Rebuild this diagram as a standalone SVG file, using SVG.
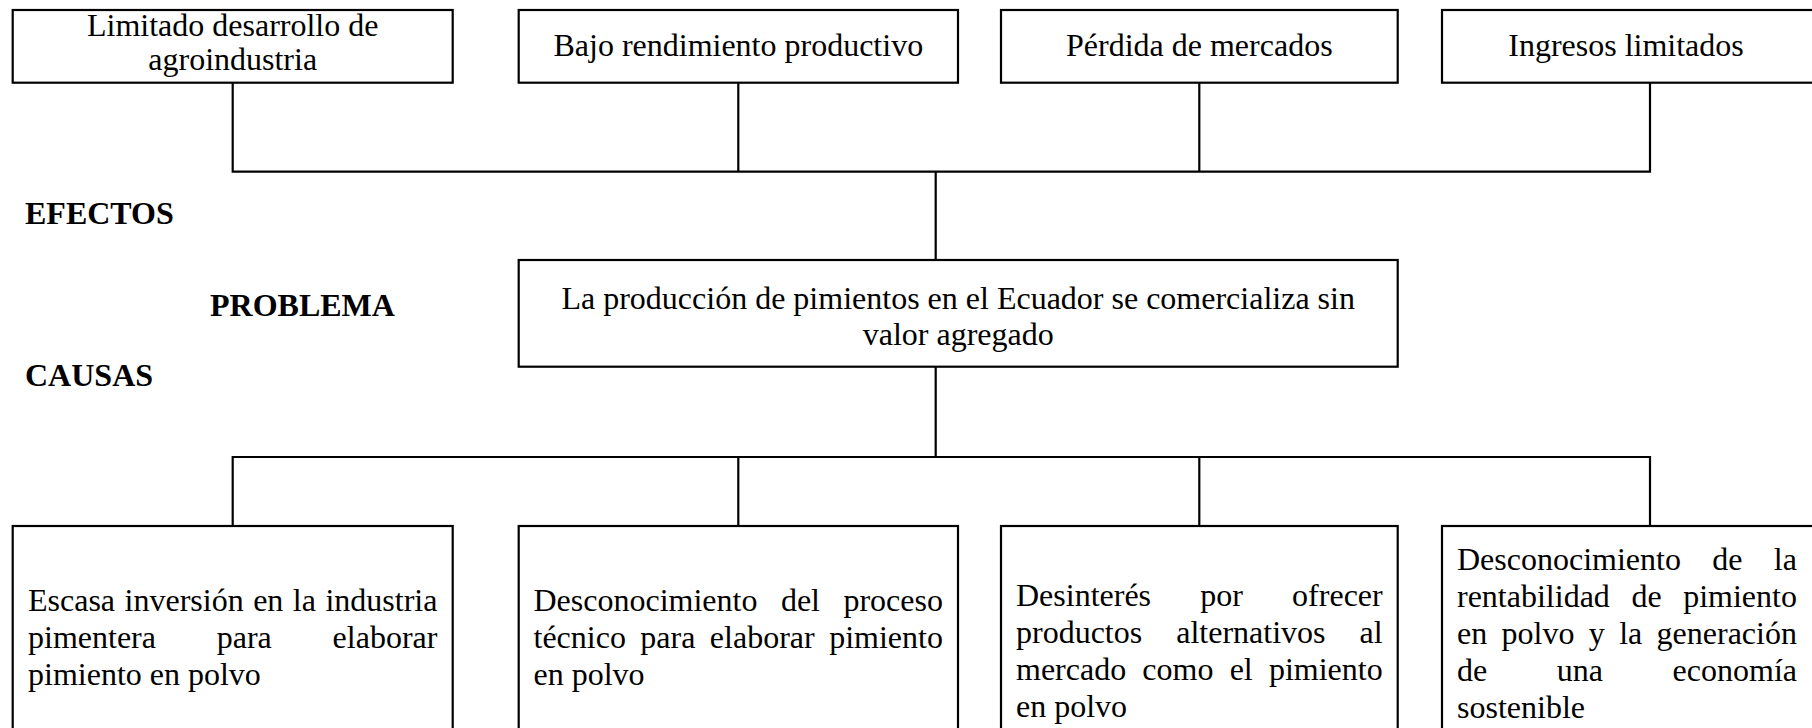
<svg xmlns="http://www.w3.org/2000/svg" width="1812" height="728" viewBox="0 0 1812 728">
<style>
.bg{fill:#ffffff}
.box{fill:#ffffff;stroke:#000000;stroke-width:2.2}
.ln{fill:none;stroke:#000000;stroke-width:2.2}
.t{font-family:"Liberation Serif","Times New Roman",serif;font-size:32px;fill:#000000}
.c{text-anchor:middle}
.b{font-weight:bold}
</style>
<rect class="bg" x="0" y="0" width="1812" height="728"/>
<g id="connectors">
<path class="ln" d="M232.7,82.7 V171.7 H1650 V82.7 M738.3,82.7 V171.7 M1199.3,82.7 V171.7 M935.7,171.7 V260"/>
<path class="ln" d="M935.7,366.7 V457 M232.7,526 V457 H1650 V526 M738.3,457 V526 M1199.3,457 V526"/>
</g>
<g id="efecto1">
<rect class="box" x="12.7" y="10" width="440" height="72.7"/>
<text class="t c" x="232.7" y="36">Limitado desarrollo de</text>
<text class="t c" x="232.7" y="70">agroindustria</text>
</g>
<g id="efecto2">
<rect class="box" x="518.7" y="10" width="439.3" height="72.7"/>
<text class="t c" x="738.3" y="56">Bajo rendimiento productivo</text>
</g>
<g id="efecto3">
<rect class="box" x="1001" y="10" width="396.7" height="72.7"/>
<text class="t c" x="1199.3" y="56">Pérdida de mercados</text>
</g>
<g id="efecto4">
<rect class="box" x="1442" y="10" width="400" height="72.7"/>
<text class="t c" x="1626" y="56">Ingresos limitados</text>
</g>
<g id="lbl-efectos"><text class="t b" x="25" y="224">EFECTOS</text></g>
<g id="lbl-problema"><text class="t b" x="210" y="316">PROBLEMA</text></g>
<g id="lbl-causas"><text class="t b" x="25" y="386">CAUSAS</text></g>
<g id="problema">
<rect class="box" x="518.7" y="260" width="879" height="106.7"/>
<text class="t c" x="958.2" y="308.5">La producción de pimientos en el Ecuador se comercializa sin</text>
<text class="t c" x="958.2" y="344.5">valor agregado</text>
</g>
<g id="causa1">
<rect class="box" x="12.7" y="526" width="440" height="220"/>
<text class="t" x="28" y="611" word-spacing="1.5">Escasa inversión en la industria</text>
<text class="t" x="28" y="648" word-spacing="52.8">pimentera para elaborar</text>
<text class="t" x="28" y="685">pimiento en polvo</text>
</g>
<g id="causa2">
<rect class="box" x="518.7" y="526" width="439.3" height="220"/>
<text class="t" x="533.5" y="611" word-spacing="15.45">Desconocimiento del proceso</text>
<text class="t" x="533.5" y="648" word-spacing="6.46">técnico para elaborar pimiento</text>
<text class="t" x="533.5" y="685">en polvo</text>
</g>
<g id="causa3">
<rect class="box" x="1001" y="526" width="396.7" height="220"/>
<text class="t" x="1016" y="606" word-spacing="41.2">Desinterés por ofrecer</text>
<text class="t" x="1016" y="643" word-spacing="26">productos alternativos al</text>
<text class="t" x="1016" y="680" word-spacing="8.2">mercado como el pimiento</text>
<text class="t" x="1016" y="717">en polvo</text>
</g>
<g id="causa4">
<rect class="box" x="1442" y="526" width="400" height="220"/>
<text class="t" x="1457" y="570" word-spacing="23.35">Desconocimiento de la</text>
<text class="t" x="1457" y="607" word-spacing="13.56">rentabilidad de pimiento</text>
<text class="t" x="1457" y="644" word-spacing="6.35">en polvo y la generación</text>
<text class="t" x="1457" y="681" word-spacing="61.6">de una economía</text>
<text class="t" x="1457" y="718">sostenible</text>
</g>
</svg>
